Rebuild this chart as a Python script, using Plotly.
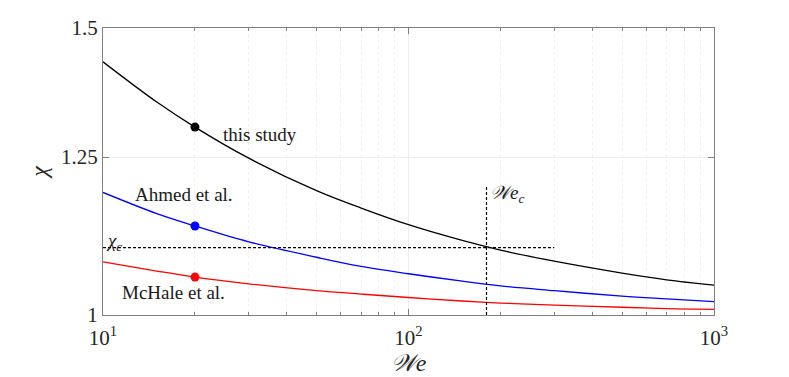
import math
import plotly.graph_objects as go

# Weber number samples and chi curves
we = [10, 15, 20, 30, 50, 70, 100, 150, 200, 300, 500, 700, 1000]
chi_study = [1.430, 1.351, 1.304, 1.248, 1.192, 1.163, 1.136, 1.111, 1.096, 1.079, 1.061, 1.051, 1.043]
chi_ahmed = [1.189, 1.154, 1.134, 1.109, 1.085, 1.071, 1.060, 1.049, 1.042, 1.035, 1.027, 1.023, 1.019]
chi_mchale = [1.078, 1.064, 1.055, 1.045, 1.035, 1.030, 1.025, 1.020, 1.017, 1.014, 1.011, 1.009, 1.008]

# operating point markers
we_pt = 20
chi_pts = [1.304, 1.134, 1.055]
pt_colors = ['black', 'blue', 'red']

# critical values
chi_c = 1.1
we_c = 180
chi_c_span = [10, 300]
we_c_span = [1.0, 1.2]

font = 'Liberation Serif'

fig = go.Figure()
for ys, col in [(chi_study, 'black'), (chi_ahmed, 'blue'), (chi_mchale, 'red')]:
    fig.add_trace(go.Scatter(x=we, y=ys, mode='lines', line=dict(color=col, width=1.3, shape='spline')))

fig.add_trace(go.Scatter(x=chi_c_span, y=[chi_c, chi_c], mode='lines',
                         line=dict(color='black', width=1.2, dash='3px,2px')))
fig.add_trace(go.Scatter(x=[we_c, we_c], y=we_c_span, mode='lines',
                         line=dict(color='black', width=1.2, dash='3px,2px')))
fig.add_trace(go.Scatter(x=[we_pt] * 3, y=chi_pts, mode='markers',
                         marker=dict(color=pt_colors, size=9)))

labels = [
    (24.3, 1.291, 'this study'),
    (12.5, 1.186, 'Ahmed et al.'),
    (11.4, 1.033, 'McHale et al.'),
    (10.05, 1.109, '<i>χ<sub>c</sub></i>'),
    (182, 1.186, '<i>𝒲e<sub>c</sub></i>'),
]
# log axes: annotation coordinates are log10 values
for x, y, t in labels:
    fig.add_annotation(x=math.log10(x), y=math.log10(y), text=t, showarrow=False,
                       xanchor='left', yanchor='middle', xref='x', yref='y',
                       font=dict(family=font, size=19, color='#1a1a1a'))

minor_vals = [v * d for d in (10, 100) for v in range(2, 10)]

# page body adds an 8px offset, so the figure is a bit smaller than the window
fig.update_layout(
    width=781, height=369,
    margin=dict(l=95, r=75, t=20, b=62),
    plot_bgcolor='white', paper_bgcolor='white',
    showlegend=False,
    font=dict(family=font, size=21, color='#262626'),
)
fig.update_xaxes(
    type='log', range=[1, 3], automargin=False,
    tickvals=[10, 100, 1000], ticktext=['10<sup>1</sup>', '10<sup>2</sup>', '10<sup>3</sup>'],
    ticks='inside', ticklen=6, tickcolor='#808080', ticklabelstandoff=4,
    showline=True, linecolor='#808080', linewidth=1, mirror='ticks',
    showgrid=True, gridcolor='#ededed', gridwidth=1,
    minor=dict(tickvals=minor_vals, ticks='inside', ticklen=3, tickcolor='#808080',
               showgrid=True, gridcolor='#f0f0f0', griddash='dot'),
    title=dict(text='<i>𝒲e</i>', font=dict(size=24), standoff=4),
    zeroline=False,
)
fig.update_yaxes(
    type='log', range=[0, math.log10(1.5)], automargin=False,
    tickvals=[1, 1.25, 1.5], ticktext=['1', '1.25', '1.5'],
    ticks='inside', ticklen=6, tickcolor='#808080',
    showline=True, linecolor='#808080', linewidth=1, mirror='ticks',
    showgrid=True, gridcolor='#ededed', gridwidth=1,
    title=dict(text='<i>χ</i>', font=dict(size=24), standoff=6),
    zeroline=False,
)

fig.write_html('out.html')
